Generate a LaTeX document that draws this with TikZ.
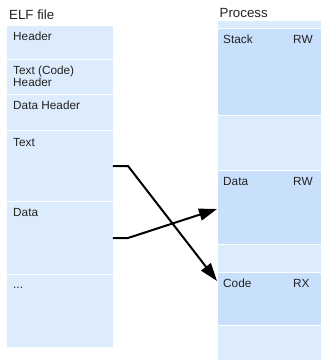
\documentclass[tikz,border=0pt]{standalone}
\usepackage{fontspec}
\setmainfont{Liberation Sans}
\usetikzlibrary{arrows.meta,calc}
\definecolor{seglight}{RGB}{221,236,253}
\definecolor{segdark}{RGB}{200,224,252}
\definecolor{labelgray}{RGB}{34,34,34}

\begin{document}
\begin{tikzpicture}[x=1pt,y=-1pt,
  seg/.style={inner sep=0pt,outer sep=0pt,anchor=north west,fill=seglight},
  segd/.style={seg,fill=segdark},
  lbl/.style={inner sep=0pt,anchor=base west,text=labelgray,font=\fontsize{11.8}{12}\selectfont,align=left},
  ttl/.style={inner sep=0pt,anchor=base west,text=labelgray,font=\fontsize{13.3}{14}\selectfont},
  conn/.style={line width=2pt,-{Triangle[length=18pt,width=12pt]}}]
\useasboundingbox (0,0) rectangle (321,360);

% ELF file sections
\node[ttl] (elft) at (9,19) {ELF file};
\node[seg,minimum width=106pt,minimum height=33pt] (hdr) at (7,26) {};
\node[seg,minimum width=106pt,minimum height=34pt] (tch) at (7,60) {};
\node[seg,minimum width=106pt,minimum height=35pt] (dhd) at (7,95) {};
\node[seg,minimum width=106pt,minimum height=70pt] (txt) at (7,131) {};
\node[seg,minimum width=106pt,minimum height=72pt] (dat) at (7,202) {};
\node[seg,minimum width=106pt,minimum height=72pt] (more) at (7,275) {};

\node[lbl] (hdrl) at ($(hdr.north west)+(6,14)$) {Header};
\node[lbl] (tchl) at ($(tch.north west)+(6,14)$) {Text (Code)};
\node[lbl] (tchl2) at ($(tch.north west)+(6,26)$) {Header};
\node[lbl] (dhdl) at ($(dhd.north west)+(6,14.5)$) {Data Header};
\node[lbl] (txtl) at ($(txt.north west)+(6,15)$) {Text};
\node[lbl] (datl) at ($(dat.north west)+(6,14.5)$) {Data};
\node[lbl] (morel) at ($(more.north west)+(6,13.5)$) {...};

% Process memory regions
\node[ttl] (proct) at (219.5,17.5) {Process};
\node[seg,minimum width=103pt,minimum height=7pt] (ptop) at (218,21) {};
\node[segd,minimum width=103pt,minimum height=86pt] (stack) at (218,29) {};
\node[seg,minimum width=103pt,minimum height=54pt] (gapa) at (218,116) {};
\node[segd,minimum width=103pt,minimum height=73pt] (pdat) at (218,171) {};
\node[seg,minimum width=103pt,minimum height=27pt] (gapb) at (218,245) {};
\node[segd,minimum width=103pt,minimum height=52pt] (code) at (218,273) {};
\node[seg,minimum width=103pt,minimum height=34pt] (pbot) at (218,326) {};

\node[lbl] (stackl) at ($(stack.north west)+(5,14)$) {Stack};
\node[lbl] (stackp) at ($(stack.north west)+(75,14)$) {RW};
\node[lbl] (pdatl) at ($(pdat.north west)+(5,14)$) {Data};
\node[lbl] (pdatp) at ($(pdat.north west)+(75,14)$) {RW};
\node[lbl] (codel) at ($(code.north west)+(5,14)$) {Code};
\node[lbl] (codep) at ($(code.north west)+(75,14)$) {RX};

% Mappings from file sections to memory regions
\draw[conn] (txt.east) -- ++(15,0) -- ($(code.north west)+(-1,8)$);
\draw[conn] (dat.east) -- ++(15,0) -- ($(pdat.north west)+(-1,38)$);
\end{tikzpicture}
\end{document}
